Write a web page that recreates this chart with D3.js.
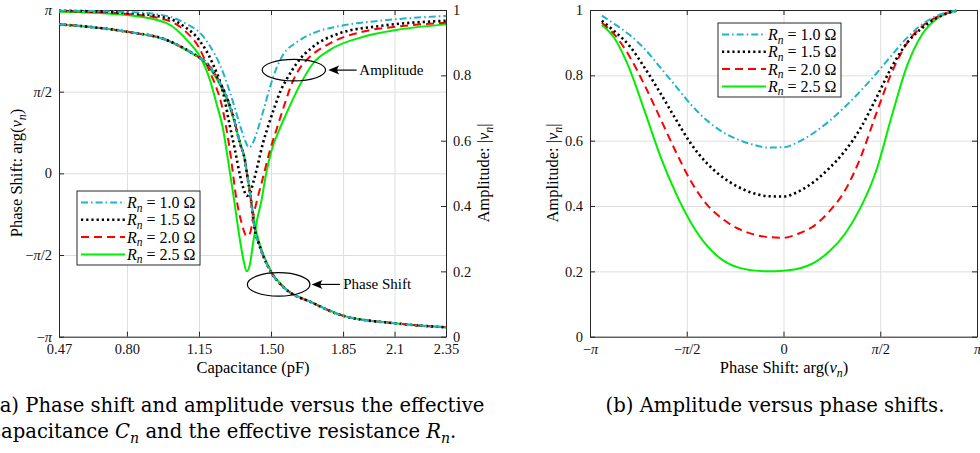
<!DOCTYPE html>
<html>
<head>
<meta charset="utf-8">
<script src="https://cdn.jsdelivr.net/npm/d3@7"></script>
<style>
    body { margin: 0; background: #fff; }
    svg { display: block; font-family: 'Liberation Serif', 'DejaVu Serif', serif; }
    .grid line { stroke: #dedede; stroke-width: 1; }
    .grid path { display: none; }
    .axis path, .axis line { stroke: #262626; }
    .axis text { font-size: 14.5px; fill: #111; font-family: 'Liberation Serif', serif; }
</style>
</head>
<body>
<svg id="fig" width="980" height="453"></svg>
<script>
const PI = Math.PI;

// ---- ticks ----
const capTicks = [0.47, 0.80, 1.15, 1.50, 1.85, 2.1, 2.35];
const capTickLabels = ['0.47', '0.80', '1.15', '1.50', '1.85', '2.1', '2.35'];
const phaseTicks = [-PI, -PI / 2, 0, PI / 2, PI];
const phaseTickLabels = ['−π', '−π/2', '0', 'π/2', 'π'];
const ampTicks = [0, 0.2, 0.4, 0.6, 0.8, 1];

const resistances = ['1.0', '1.5', '2.0', '2.5'];

// ---- (a) phase vs capacitance [pF, rad] ----
const phaseVsCap = [[0.47, 2.867], [0.80, 2.724], [0.993, 2.565], [1.106, 2.340], [1.151, 2.232], [1.171, 2.180],
    [1.236, 1.859], [1.284, 1.474], [1.317, 1.090], [1.349, 0.578], [1.373, 0.257], [1.383, 0.0], [1.398, -0.384],
    [1.422, -1.090], [1.446, -1.411], [1.503, -1.922], [1.558, -2.180], [1.704, -2.494], [1.849, -2.738],
    [2.102, -2.884], [2.35, -2.961]];
const phaseVsCapR25 = [[0.47, 2.867], [0.80, 2.722], [0.993, 2.560], [1.106, 2.330], [1.171, 2.160], [1.236, 1.820],
    [1.284, 1.430], [1.317, 1.060], [1.349, 0.590], [1.373, 0.260], [1.383, 0.0], [1.398, -0.360], [1.422, -1.010],
    [1.446, -1.370], [1.503, -1.900], [1.558, -2.170], [1.704, -2.490], [1.849, -2.736], [2.102, -2.884], [2.35, -2.961]];

// ---- (a) amplitude vs capacitance [pF, |v|] ----
const ampVsCapR10 = [[0.47, 0.998], [0.80, 0.994], [0.993, 0.982], [1.09, 0.957], [1.155, 0.930], [1.203, 0.890],
    [1.252, 0.832], [1.300, 0.749], [1.339, 0.669], [1.373, 0.602], [1.393, 0.579], [1.412, 0.593], [1.432, 0.627],
    [1.461, 0.688], [1.495, 0.764], [1.529, 0.826], [1.558, 0.862], [1.626, 0.902], [1.704, 0.929], [1.835, 0.951],
    [2.029, 0.967], [2.35, 0.982]];
const ampVsCapR15 = [[0.47, 0.998], [0.80, 0.991], [0.993, 0.976], [1.082, 0.948], [1.151, 0.908], [1.213, 0.841],
    [1.268, 0.745], [1.300, 0.645], [1.325, 0.571], [1.349, 0.495], [1.364, 0.458], [1.383, 0.431], [1.398, 0.440],
    [1.417, 0.480], [1.437, 0.530], [1.461, 0.593], [1.485, 0.642], [1.519, 0.706], [1.548, 0.755], [1.577, 0.789],
    [1.626, 0.838], [1.705, 0.888], [1.835, 0.929], [2.029, 0.951], [2.35, 0.967]];
const ampVsCapR20 = [[0.47, 0.997], [0.80, 0.988], [0.993, 0.969], [1.082, 0.936], [1.151, 0.884], [1.203, 0.810],
    [1.230, 0.770], [1.262, 0.705], [1.300, 0.571], [1.333, 0.418], [1.357, 0.348], [1.382, 0.308], [1.398, 0.317],
    [1.413, 0.366], [1.432, 0.418], [1.454, 0.470], [1.495, 0.571], [1.529, 0.639], [1.563, 0.706], [1.606, 0.782],
    [1.640, 0.822], [1.673, 0.847], [1.786, 0.898], [1.948, 0.934], [2.110, 0.949], [2.35, 0.961]];
const ampVsCapR25 = [[0.47, 0.995], [0.80, 0.985], [0.993, 0.960], [1.106, 0.898], [1.151, 0.862], [1.203, 0.786],
    [1.237, 0.709], [1.266, 0.639], [1.291, 0.541], [1.317, 0.434], [1.349, 0.296], [1.366, 0.235], [1.382, 0.200],
    [1.398, 0.223], [1.413, 0.287], [1.432, 0.357], [1.454, 0.418], [1.475, 0.495], [1.503, 0.571], [1.538, 0.630],
    [1.576, 0.685], [1.640, 0.770], [1.705, 0.837], [1.786, 0.878], [1.948, 0.918], [2.110, 0.939], [2.35, 0.956]];

// ---- (b) amplitude vs phase, sampled on a phase grid [rad] ----
const phaseGrid = [-2.95, -2.75, -2.5, -2.25, -2.0, -1.75, -1.5, -1.25, -1.0, -0.75, -0.5, -0.25,
    0, 0.25, 0.5, 0.75, 1.0, 1.25, 1.5, 1.75, 2.0, 2.25, 2.5, 2.81];
const ampVsPhaseR10 = [0.983, 0.958, 0.924, 0.880, 0.824, 0.767, 0.710, 0.663, 0.628, 0.604, 0.588, 0.579,
    0.580, 0.597, 0.625, 0.661, 0.704, 0.752, 0.804, 0.860, 0.914, 0.956, 0.983, 0.998];
const ampVsPhaseR15 = [0.967, 0.936, 0.890, 0.822, 0.746, 0.666, 0.590, 0.532, 0.490, 0.460, 0.440, 0.430,
    0.429, 0.445, 0.475, 0.517, 0.569, 0.638, 0.728, 0.823, 0.898, 0.945, 0.977, 0.998];
const ampVsPhaseR20 = [0.961, 0.926, 0.858, 0.768, 0.668, 0.567, 0.475, 0.406, 0.362, 0.332, 0.314, 0.305,
    0.303, 0.316, 0.340, 0.385, 0.448, 0.548, 0.680, 0.805, 0.897, 0.950, 0.980, 0.998];
const ampVsPhaseR25 = [0.954, 0.915, 0.820, 0.688, 0.553, 0.440, 0.348, 0.280, 0.236, 0.213, 0.203, 0.200,
    0.202, 0.209, 0.227, 0.262, 0.315, 0.395, 0.505, 0.670, 0.826, 0.925, 0.975, 0.998];

// line styles, same order as resistances
const styles = [
    { color: '#22b4c6', dash: '7,3,1.6,3', width: 2 },
    { color: '#000000', dash: '2.2,3', width: 2.6 },
    { color: '#ff0000', dash: '8,5', width: 2 },
    { color: '#00ee00', dash: null, width: 2 }
];

const svg = d3.select('#fig');
const plotTop = 10, plotBottom = 336.7;

const xCap = d3.scaleLinear().domain([0.47, 2.35]).range([59, 446]);
const yPhase = d3.scaleLinear().domain([-PI, PI]).range([plotBottom, plotTop]);
const yAmp = d3.scaleLinear().domain([0, 1]).range([plotBottom, plotTop]);
const xPhase = d3.scaleLinear().domain([-PI, PI]).range([590, 977]);

/**
 * Append text pieces (italic / subscript) into a text element
 */
function rich(text, parts, shift = 4) {
    let low = false;
    parts.forEach(p => {
        const s = text.append('tspan').text(p.t);
        if (p.i) s.style('font-style', 'italic');
        if (p.sub) s.style('font-size', '72%');
        if (p.sub && !low) { s.attr('dy', shift); low = true; }
        else if (!p.sub && low) { s.attr('dy', -shift); low = false; }
    });
}

/**
 * Replace tick label text, with italic pi
 */
function piLabels(g, labels) {
    g.selectAll('.tick text').each(function(d, i) {
        const t = d3.select(this).text(null);
        labels[i].split(/(π)/).filter(s => s.length).forEach(s => {
            t.append('tspan').text(s).style('font-style', s === 'π' ? 'italic' : null);
        });
    });
}

/**
 * Grid + boxed axes with inward ticks
 */
function frame(x, y, xTicks, xLabels, yTicks, yLabels, yRight, yRightTicks) {
    const [x0, x1] = x.range();
    const g = svg.append('g');

    g.append('g').attr('class', 'grid')
        .attr('transform', `translate(0,${plotBottom})`)
        .call(d3.axisBottom(x).tickValues(xTicks).tickSize(-(plotBottom - plotTop)).tickFormat(''));
    g.append('g').attr('class', 'grid')
        .attr('transform', `translate(${x0},0)`)
        .call(d3.axisLeft(y).tickValues(yTicks).tickSize(-(x1 - x0)).tickFormat(''));

    const bottom = g.append('g').attr('class', 'axis')
        .attr('transform', `translate(0,${plotBottom})`)
        .call(d3.axisBottom(x).tickValues(xTicks).tickFormat((d, i) => xLabels[i])
            .tickSizeInner(-5).tickSizeOuter(0).tickPadding(7));
    piLabels(bottom, xLabels);

    g.append('g').attr('class', 'axis')
        .attr('transform', `translate(0,${plotTop})`)
        .call(d3.axisTop(x).tickValues(xTicks).tickFormat('').tickSizeInner(-5).tickSizeOuter(0));

    const left = g.append('g').attr('class', 'axis')
        .attr('transform', `translate(${x0},0)`)
        .call(d3.axisLeft(y).tickValues(yTicks).tickFormat((d, i) => yLabels[i])
            .tickSizeInner(-5).tickSizeOuter(0).tickPadding(7));
    piLabels(left, yLabels);

    const right = g.append('g').attr('class', 'axis')
        .attr('transform', `translate(${x1},0)`)
        .call(d3.axisRight(yRight || y).tickValues(yRightTicks || yTicks).tickFormat(d => String(d))
            .tickSizeInner(-5).tickSizeOuter(0).tickPadding(7));
    if (!yRight) right.selectAll('.tick text').remove();
    return g;
}

/**
 * Draw one series path
 */
function series(data, x, y, st) {
    const line = d3.line().x(d => x(d[0])).y(d => y(d[1])).curve(d3.curveMonotoneX);
    svg.append('path')
        .attr('d', line(data))
        .attr('fill', 'none')
        .attr('stroke', st.color)
        .attr('stroke-width', st.width)
        .attr('stroke-dasharray', st.dash)
        .attr('stroke-linejoin', 'round');
}

/**
 * Legend box
 */
function legend(x0, y0) {
    const g = svg.append('g').attr('transform', `translate(${x0},${y0})`);
    g.append('rect')
        .attr('width', 123).attr('height', 74)
        .attr('fill', '#fff').attr('stroke', '#262626').attr('stroke-width', 1);
    resistances.forEach((r, i) => {
        const cy = 11.5 + i * 17.3;
        g.append('line')
            .attr('x1', 4).attr('x2', 48).attr('y1', cy).attr('y2', cy)
            .attr('stroke', styles[i].color).attr('stroke-width', styles[i].width)
            .attr('stroke-dasharray', styles[i].dash);
        const t = g.append('text').attr('x', 50).attr('y', cy + 5.5).style('font-size', '16px');
        rich(t, [{ t: 'R', i: true }, { t: 'n', i: true, sub: true }, { t: ' = ' + r + ' Ω' }], 3.5);
    });
}

/**
 * Ellipse with arrow and label
 */
function note(n) {
    const cx = xCap(n.cx), cy = yAmp(n.cy);
    svg.append('ellipse')
        .attr('cx', cx).attr('cy', cy)
        .attr('rx', xCap(n.cx + n.rx) - cx).attr('ry', yAmp(n.cy - n.ry) - cy)
        .attr('fill', 'none').attr('stroke', '#000').attr('stroke-width', 1.2);
    const tip = xCap(n.tip), tail = xCap(n.tail);
    svg.append('line')
        .attr('x1', tip + 6).attr('x2', tail).attr('y1', cy).attr('y2', cy)
        .attr('stroke', '#000').attr('stroke-width', 1.2);
    svg.append('path')
        .attr('d', `M${tip},${cy} L${tip + 11},${cy - 4.5} Q${tip + 7},${cy} ${tip + 11},${cy + 4.5} Z`)
        .attr('fill', '#000');
    svg.append('text')
        .attr('x', xCap(n.textAt)).attr('y', cy + 5)
        .style('font-size', '15px')
        .text(n.label);
}

function axisLabel(x, y, rotate, parts) {
    const t = svg.append('text')
        .attr('transform', `translate(${x},${y})` + (rotate ? ' rotate(-90)' : ''))
        .attr('text-anchor', 'middle')
        .style('font-size', '16.5px');
    rich(t, parts);
}

const phaseLabel = [{ t: 'Phase Shift: arg(' }, { t: 'v', i: true }, { t: 'n', i: true, sub: true }, { t: ')' }];
const ampLabel = [{ t: 'Amplitude: |' }, { t: 'v', i: true }, { t: 'n', i: true, sub: true }, { t: '|' }];

// ---------- panel (a) ----------
frame(xCap, yPhase, capTicks, capTickLabels, phaseTicks, phaseTickLabels, yAmp, ampTicks);

const ampA = [ampVsCapR10, ampVsCapR15, ampVsCapR20, ampVsCapR25];
const phaseA = [phaseVsCap, phaseVsCap, phaseVsCap, phaseVsCapR25];
[3, 2, 1, 0].forEach(i => {
    series(ampA[i], xCap, yAmp, styles[i]);
    series(phaseA[i], xCap, yPhase, styles[i]);
});

note({ label: 'Amplitude', cx: 1.611, cy: 0.816, rx: 0.154, ry: 0.033, tip: 1.778, tail: 1.916, textAt: 1.929 });
note({ label: 'Phase Shift', cx: 1.537, cy: 0.160, rx: 0.152, ry: 0.036, tip: 1.697, tail: 1.835, textAt: 1.851 });
legend(77, 191);

axisLabel(253, 373, false, [{ t: 'Capacitance (pF)' }]);
axisLabel(22, 173, true, phaseLabel);
axisLabel(489, 173, true, ampLabel);

// ---------- panel (b) ----------
frame(xPhase, yAmp, phaseTicks, phaseTickLabels, ampTicks, ampTicks.map(String));

const ampB = [ampVsPhaseR10, ampVsPhaseR15, ampVsPhaseR20, ampVsPhaseR25];
[3, 2, 1, 0].forEach(i => series(phaseGrid.map((p, k) => [p, ampB[i][k]]), xPhase, yAmp, styles[i]));
legend(718, 23);

axisLabel(784, 373, false, phaseLabel);
axisLabel(558, 173, true, ampLabel);

// ---------- captions ----------
const capFont = "'DejaVu Serif', serif";
svg.append('text')
    .attr('x', -8).attr('y', 412)
    .style('font-family', capFont).style('font-size', '19.6px')
    .text('(a) Phase shift and amplitude versus the effective');
rich(svg.append('text')
    .attr('x', -10).attr('y', 438)
    .style('font-family', capFont).style('font-size', '19.6px'),
    [{ t: 'capacitance ' }, { t: 'C', i: true }, { t: 'n', i: true, sub: true },
     { t: ' and the effective resistance ' }, { t: 'R', i: true }, { t: 'n', i: true, sub: true }, { t: '.' }], 5);
svg.append('text')
    .attr('x', 775).attr('y', 412)
    .attr('text-anchor', 'middle')
    .style('font-family', capFont).style('font-size', '19.6px')
    .text('(b) Amplitude versus phase shifts.');
</script>
</body>
</html>
